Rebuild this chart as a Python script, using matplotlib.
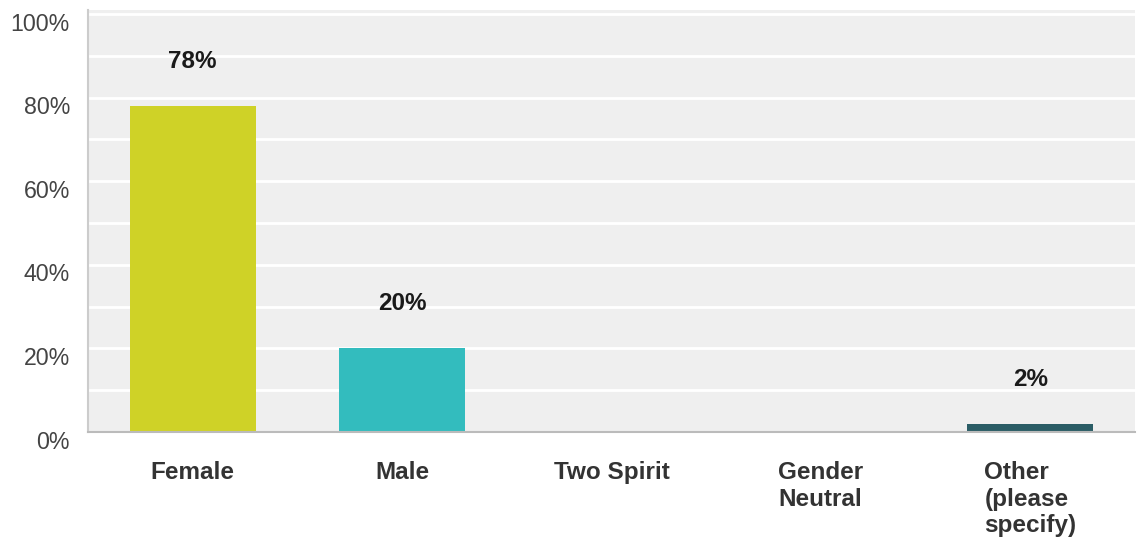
import matplotlib
matplotlib.use("Agg")
import matplotlib.pyplot as plt
from matplotlib.transforms import offset_copy

categories = ["Female", "Male", "Two Spirit", "Gender\nNeutral", "Other\n(please\nspecify)"]
shares = [78, 20, 0, 0, 2]
bar_colors = ["#cfd227", "#33bcbe", "#2d8f9a", "#2d6f7a", "#2b5d66"]
y_ticks = [0, 20, 40, 60, 80, 100]

plt.rcParams["font.family"] = ["Liberation Sans", "DejaVu Sans"]

fig = plt.figure(figsize=(11.39, 5.42), dpi=100)
ax = fig.add_axes([0.0773, 0.203, 0.9192, 0.779])
ax.set_facecolor("#efefef")

x = range(len(categories))
ax.bar(x, shares, width=0.6, color=bar_colors, zorder=3)

for xi, val in zip(x, shares):
    if val > 0:
        ax.annotate(f"{val}%", (xi, val), xytext=(0, 32), textcoords="offset points",
                    ha="center", va="center", fontsize=17.5, fontweight="bold",
                    color="#1a1a1a", zorder=4)

ax.set_xlim(-0.5, len(categories) - 0.5)
ax.set_ylim(0, 101)

# white bands every 10%
ax.set_yticks(range(0, 101, 10), minor=True)
ax.set_yticks(y_ticks)
ax.grid(axis="y", which="both", color="white", linewidth=2, zorder=1)
ax.set_yticklabels([f"{t}%" for t in y_ticks])
ax.tick_params(axis="y", which="both", length=0)
ax.tick_params(axis="y", pad=13, labelsize=16.7, labelcolor="#444444")
for lab in ax.get_yticklabels():
    lab.set_transform(offset_copy(lab.get_transform(), fig=fig, x=0, y=-5.5, units="points"))

ax.set_xticks(list(x))
ax.set_xticklabels(categories, fontweight="bold", fontsize=17.5, color="#333333",
                   multialignment="left", linespacing=1.2)
ax.tick_params(axis="x", length=0, pad=21)

for side in ["top", "right"]:
    ax.spines[side].set_visible(False)
ax.spines["left"].set_color("#cccccc")
ax.spines["left"].set_linewidth(1.5)
ax.spines["bottom"].set_color("#bbbbbb")
ax.spines["bottom"].set_linewidth(1.5)
ax.spines["bottom"].set_zorder(5)

fig.savefig("out.png", dpi=100, facecolor="white")
